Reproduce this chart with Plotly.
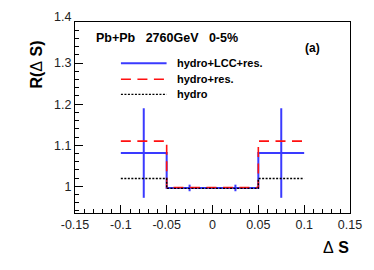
import plotly.graph_objects as go

edges = [-0.1, -0.05, 0.0, 0.05, 0.1]
centers = [-0.075, -0.025, 0.025, 0.075]
lcc_vals = [1.081, 0.996, 0.996, 1.081]
lcc_err = [0.109, 0.008, 0.008, 0.109]
res_vals = [1.110, 0.997, 0.997, 1.110]
hydro_vals = [1.019, 0.995, 0.995, 1.019]
series_names = ["hydro+LCC+res.", "hydro+res.", "hydro"]
x_ticks = [-0.15, -0.1, -0.05, 0, 0.05, 0.1, 0.15]
x_ticklabels = ["-0.15", "-0.1", "-0.05", "0", "0.05", "0.1", "0.15"]
y_ticks = [1.0, 1.1, 1.2, 1.3, 1.4]
y_ticklabels = ["1", "1.1", "1.2", "1.3", "1.4"]

FONT = "Liberation Sans, Arial, Helvetica, sans-serif"
BLUE = "#3a3aff"
RED = "#ff1010"
BLACK = "#000000"
RED_DASH = "10px,6.5px"
DOT = "2px,1.5px"

fig = go.Figure()

# hydro+LCC+res. : step outline + error bars
fig.add_trace(go.Scatter(x=edges, y=lcc_vals + [lcc_vals[-1]], mode="lines",
                         line=dict(color=BLUE, width=2, shape="hv"),
                         showlegend=False, hoverinfo="skip"))
fig.add_trace(go.Scatter(x=centers, y=lcc_vals, mode="markers",
                         marker=dict(size=0.1, color=BLUE),
                         error_y=dict(type="data", array=lcc_err, color=BLUE,
                                      thickness=2, width=0),
                         showlegend=False, name=series_names[0]))
fig.add_trace(go.Scatter(x=edges, y=res_vals + [res_vals[-1]], mode="lines",
                         line=dict(color=RED, width=1.6, shape="hv", dash=RED_DASH),
                         showlegend=False, name=series_names[1]))
fig.add_trace(go.Scatter(x=edges, y=hydro_vals + [hydro_vals[-1]], mode="lines",
                         line=dict(color=BLACK, width=1.4, shape="hv", dash=DOT),
                         showlegend=False, name=series_names[2]))

axis_common = dict(showline=True, linecolor="black", linewidth=1, mirror=True,
                   ticks="inside", ticklen=8, tickcolor="black", tickwidth=1,
                   showgrid=False, zeroline=False,
                   tickfont=dict(family=FONT, size=12.5, color="#222"))

fig.update_xaxes(range=[-0.15, 0.15], tickvals=x_ticks, ticktext=x_ticklabels,
                 minor=dict(ticks="inside", ticklen=4, tickcolor="black", dtick=0.01,
                            tick0=0, showgrid=False),
                 **axis_common)
# top label of the y axis is drawn slightly raised (as in the ROOT original)
y_ticktext_axis = y_ticklabels[:-1] + [""]
fig.update_yaxes(range=[0.935, 1.4], tickvals=y_ticks, ticktext=y_ticktext_axis,
                 minor=dict(ticks="inside", ticklen=4, tickcolor="black", dtick=0.02,
                            tick0=0, showgrid=False),
                 **axis_common)
fig.add_annotation(text=y_ticklabels[-1], xref="paper", yref="y", x=-0.007,
                   y=y_ticks[-1], xanchor="right", yanchor="middle", yshift=5,
                   showarrow=False, font=dict(family=FONT, size=12.5, color="#222"))

# legend drawn manually (ROOT-like TLegend)
leg_styles = [dict(color=BLUE, width=2), dict(color=RED, width=1.6, dash=RED_DASH),
              dict(color=BLACK, width=1.4, dash=DOT)]
leg_rows = [0.784, 0.700, 0.621]
for name, st, yy in zip(series_names, leg_styles, leg_rows):
    fig.add_shape(type="line", xref="paper", yref="paper", x0=0.167, x1=0.333,
                  y0=yy, y1=yy, line=st)
    fig.add_annotation(text="<b>" + name + "</b>", xref="paper", yref="paper",
                       x=0.363, y=yy, xanchor="left", yanchor="middle", showarrow=False,
                       font=dict(family=FONT, size=11, color="black"))

fig.add_annotation(text="<b>Pb+Pb\u00a0\u00a0\u00a02760GeV\u00a0\u00a0\u00a00-5%</b>",
                   xref="paper", yref="paper", x=0.068, y=0.915,
                   xanchor="left", yanchor="middle", showarrow=False,
                   font=dict(family=FONT, size=12.5, color="black"))
fig.add_annotation(text="<b>(a)</b>", xref="paper", yref="paper", x=0.83, y=0.864,
                   xanchor="left", yanchor="middle", showarrow=False,
                   font=dict(family=FONT, size=12, color="black"))
fig.add_annotation(text="<b>R(</b>\u0394<b> S)</b>", xref="paper", yref="paper",
                   x=-0.14, y=0.78, textangle=-90, xanchor="center", yanchor="middle",
                   showarrow=False, font=dict(family=FONT, size=16, color="black"))
fig.add_annotation(text="\u0394<b> S</b>", xref="paper", yref="paper",
                   x=0.95, y=-0.18, xanchor="center", yanchor="middle",
                   showarrow=False, font=dict(family=FONT, size=16, color="black"))

fig.update_layout(width=374, height=270, margin=dict(l=75, r=19, t=22, b=57),
                  paper_bgcolor="white", plot_bgcolor="white", showlegend=False)

fig.write_html("out.html", config={"displayModeBar": False},
               post_script="document.body.style.margin='0';")
